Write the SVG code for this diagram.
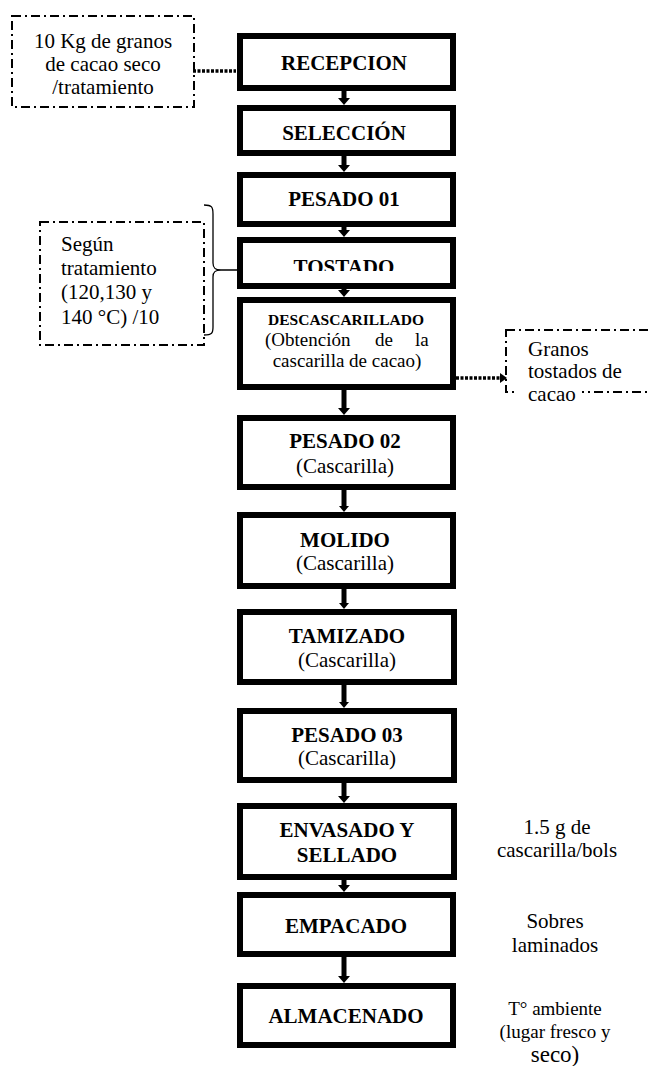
<svg xmlns="http://www.w3.org/2000/svg" width="648" height="1066" viewBox="0 0 648 1066">
<style>
.box{fill:#fff;stroke:#000;stroke-width:6}
.note{fill:none;stroke:#000;stroke-width:2;stroke-dasharray:9 4 2 4}
.b{font-family:"Liberation Serif","Times New Roman",serif;font-weight:bold;font-size:21px;text-anchor:middle;fill:#000}
.r{font-family:"Liberation Serif","Times New Roman",serif;font-size:21px;text-anchor:middle;fill:#000}
.l{font-family:"Liberation Serif","Times New Roman",serif;font-size:21px;fill:#000}
.arr{stroke:#000;stroke-width:5;fill:none}
.dot{stroke:#000;stroke-width:3.5;stroke-dasharray:3 1.5;fill:none}
</style>
<defs>
<clipPath id="clipT"><rect x="240" y="240" width="213" height="31"/></clipPath>
</defs>
<g id="connectors">
<line class="arr" x1="344" y1="91" x2="344" y2="99"/><polygon points="338,98 350,98 344,105"/>
<line class="arr" x1="344" y1="156" x2="344" y2="166"/><polygon points="338,165 350,165 344,172"/>
<line class="arr" x1="344" y1="227" x2="344" y2="231"/><polygon points="338,230 350,230 344,237"/>
<line class="arr" x1="344" y1="289" x2="344" y2="291"/><polygon points="338,290 350,290 344,297"/>
<line class="arr" x1="344" y1="390" x2="344" y2="409"/><polygon points="338,408 350,408 344,415"/>
<line class="arr" x1="344" y1="490" x2="344" y2="507"/><polygon points="339,506 349,506 344,512"/>
<line class="arr" x1="344" y1="589" x2="344" y2="604"/><polygon points="339,603 349,603 344,609"/>
<line class="arr" x1="344" y1="685" x2="344" y2="703"/><polygon points="339,702 349,702 344,708"/>
<line class="arr" x1="344" y1="783" x2="344" y2="797"/><polygon points="338,796 350,796 344,803"/>
<line class="arr" x1="344" y1="868" x2="344" y2="886"/><polygon points="338,885 350,885 344,892"/>
<line class="arr" x1="344" y1="957" x2="344" y2="977"/><polygon points="338,976 350,976 344,983"/>
<line class="dot" x1="193" y1="71" x2="236" y2="71"/>
<line class="dot" x1="456" y1="378" x2="501" y2="378"/><polygon points="500,373 507,378 500,383"/>
<path d="M204,205 C212,205 213,207 213,214 L213,263 C213,268 215,270 221,270 L238,270 M221,270 C215,270 213,272 213,277 L213,327 C213,333 212,335 204,335" fill="none" stroke="#000" stroke-width="1.3"/>
</g>
<g id="n-input">
<rect class="note" x="12" y="16" width="182" height="91"/>
<text class="r" x="103" y="48">10 Kg de granos</text>
<text class="r" x="103" y="71">de cacao seco</text>
<text class="r" x="103" y="94">/tratamiento</text>
</g>
<g id="n-temp">
<rect class="note" x="40" y="222" width="164" height="123"/>
<text class="l" x="61" y="251">Según</text>
<text class="l" x="61" y="275">tratamiento</text>
<text class="l" x="61" y="299">(120,130 y</text>
<text class="l" x="61" y="324">140 °C) /10</text>
</g>
<g id="n-granos">
<rect class="note" x="506" y="330" width="160" height="62"/>
<rect x="518" y="382" width="64" height="24" fill="#fff"/>
<text class="l" x="528" y="356">Granos</text>
<text class="l" x="528" y="378">tostados de</text>
<text class="l" x="528" y="401">cacao</text>
</g>
<g id="n-recepcion"><rect class="box" x="240" y="36" width="213" height="52"/><text class="b" x="344" y="70">RECEPCION</text></g>
<g id="n-seleccion"><rect class="box" x="240" y="108" width="213" height="45"/><text class="b" x="344" y="140">SELECCIÓN</text></g>
<g id="n-pesado01"><rect class="box" x="240" y="175" width="213" height="49"/><text class="b" x="344" y="206">PESADO 01</text></g>
<g id="n-tostado"><rect class="box" x="240" y="240" width="213" height="46"/><text class="b" x="344" y="274" clip-path="url(#clipT)">TOSTADO</text></g>
<g id="n-descascarillado"><rect class="box" x="240" y="300" width="213" height="87"/>
<text class="b" x="346" y="325" style="font-size:15.5px">DESCASCARILLADO</text>
<text class="l" x="265" y="346" style="font-size:19px">(Obtención</text><text class="l" x="375" y="346" style="font-size:19px">de</text><text class="l" x="415" y="346" style="font-size:19px">la</text>
<text class="r" x="347" y="367" style="font-size:19px">cascarilla de cacao)</text></g>
<g id="n-pesado02"><rect class="box" x="240" y="418" width="213" height="69"/><text class="b" x="345" y="448">PESADO 02</text><text class="r" x="345" y="473">(Cascarilla)</text></g>
<g id="n-molido"><rect class="box" x="240" y="515" width="213" height="71"/><text class="b" x="345" y="547">MOLIDO</text><text class="r" x="345" y="570">(Cascarilla)</text></g>
<g id="n-tamizado"><rect class="box" x="240" y="612" width="214" height="70"/><text class="b" x="347" y="643">TAMIZADO</text><text class="r" x="347" y="667">(Cascarilla)</text></g>
<g id="n-pesado03"><rect class="box" x="240" y="711" width="214" height="69"/><text class="b" x="347" y="742">PESADO 03</text><text class="r" x="347" y="765">(Cascarilla)</text></g>
<g id="n-envasado"><rect class="box" x="240" y="806" width="214" height="71"/><text class="b" x="347" y="837">ENVASADO Y</text><text class="b" x="347" y="862">SELLADO</text></g>
<g id="n-empacado"><rect class="box" x="240" y="895" width="213" height="59"/><text class="b" x="346" y="933">EMPACADO</text></g>
<g id="n-almacenado"><rect class="box" x="240" y="986" width="213" height="59"/><text class="b" x="346" y="1023">ALMACENADO</text></g>
<g id="n-notes-right">
<text class="r" x="557" y="834">1.5 g de</text>
<text class="r" x="557" y="857">cascarilla/bols</text>
<text class="r" x="555" y="928">Sobres</text>
<text class="r" x="555" y="952">laminados</text>
<text class="r" x="555" y="1015" style="font-size:19px">T° ambiente</text>
<text class="r" x="555" y="1038" style="font-size:19px">(lugar fresco y</text>
<text class="r" x="555" y="1062" style="font-size:23px">seco)</text>
</g>
</svg>
